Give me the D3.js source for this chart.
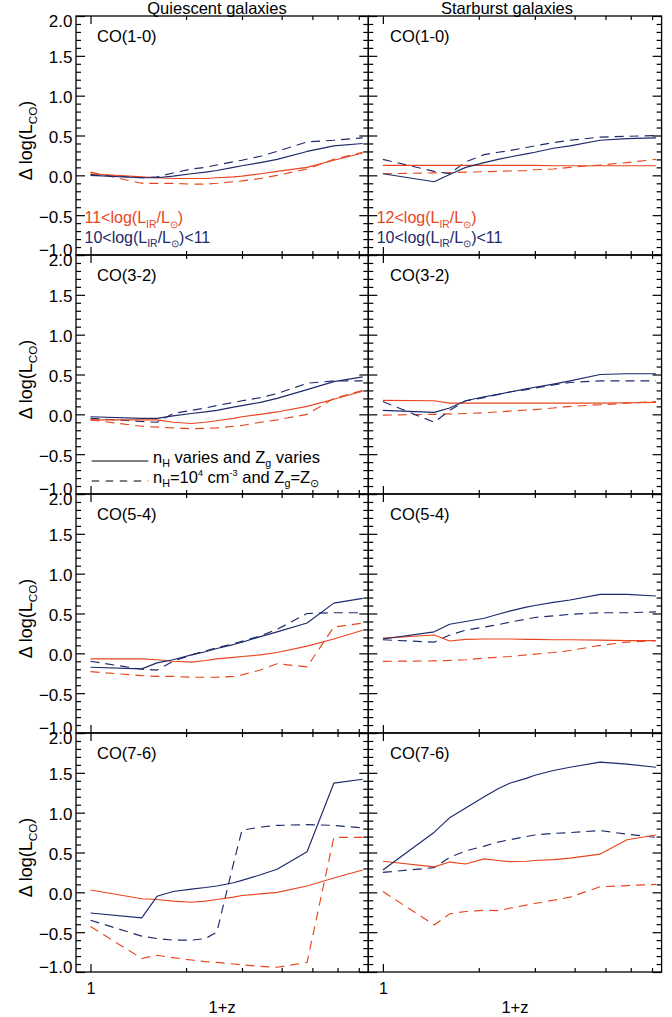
<!DOCTYPE html>
<html><head><meta charset="utf-8">
<script src="https://cdn.jsdelivr.net/npm/d3@7"></script>
<style>body{margin:0;background:#fff} svg{display:block}</style>
</head><body>
<svg id="c" width="672" height="1017"></svg>
<script>
// ---------- DATA ----------
const onePlusZ = [1, 1.45, 1.62, 1.82, 2.08, 2.3, 2.5, 2.82, 3.0, 3.43, 3.87, 4.81, 5.84, 7.2];
const columnTitles = ["Quiescent galaxies", "Starburst galaxies"];
const lineLabels = ["CO(1-0)", "CO(3-2)", "CO(5-4)", "CO(7-6)"];
const yMajorTicks = [-1, -0.5, 0, 0.5, 1, 1.5, 2];
const yMinorTicks = [-0.9,-0.8,-0.7,-0.6,-0.4,-0.3,-0.2,-0.1,0.1,0.2,0.3,0.4,0.6,0.7,0.8,0.9,1.1,1.2,1.3,1.4,1.6,1.7,1.8,1.9];
const xMajorTicks = [1];
const xMinorTicks = [2, 3, 4, 5, 6, 7];

// Quiescent galaxies
const qCO10 = {
  navySolid: [0.0,-0.03,-0.03,-0.01,0.02,0.04,0.06,0.1,0.12,0.16,0.2,0.3,0.37,0.4],
  navyDash:  [0.01,-0.03,-0.02,0.03,0.08,0.1,0.13,0.17,0.19,0.24,0.3,0.42,0.44,0.47],
  redSolid:  [0.02,-0.02,-0.03,-0.04,-0.04,-0.04,-0.03,-0.02,-0.01,0.02,0.05,0.1,0.19,0.28],
  redDash:   [0.04,-0.1,-0.1,-0.1,-0.11,-0.11,-0.1,-0.08,-0.07,-0.04,0.0,0.08,0.2,0.29]
};
const qCO32 = {
  navySolid: [-0.03,-0.05,-0.05,-0.02,0.01,0.03,0.05,0.09,0.11,0.15,0.2,0.31,0.41,0.47],
  navyDash:  [-0.05,-0.09,-0.1,0.01,0.05,0.08,0.11,0.15,0.17,0.21,0.26,0.39,0.42,0.42],
  redSolid:  [-0.07,-0.07,-0.07,-0.1,-0.115,-0.1,-0.08,-0.05,-0.03,0.0,0.03,0.1,0.19,0.29],
  redDash:   [-0.07,-0.15,-0.16,-0.17,-0.18,-0.175,-0.17,-0.15,-0.14,-0.1,-0.07,0.0,0.2,0.3]
};
const qCO54 = {
  navySolid: [-0.175,-0.195,-0.12,-0.08,-0.02,0.02,0.06,0.11,0.14,0.21,0.27,0.38,0.63,0.69],
  navyDash:  [-0.1,-0.2,-0.21,-0.1,-0.02,0.03,0.07,0.12,0.15,0.22,0.3,0.5,0.51,0.51],
  redSolid:  [-0.07,-0.07,-0.08,-0.1,-0.11,-0.09,-0.07,-0.05,-0.04,-0.02,0.01,0.09,0.18,0.29],
  redDash:   [-0.23,-0.28,-0.29,-0.29,-0.3,-0.3,-0.3,-0.29,-0.27,-0.21,-0.13,-0.17,0.33,0.38]
};
const qCO76 = {
  navySolid: [-0.26,-0.32,-0.05,0.01,0.04,0.06,0.08,0.12,0.15,0.22,0.29,0.51,1.37,1.42],
  navyDash:  [-0.35,-0.55,-0.58,-0.6,-0.6,-0.58,-0.5,0.36,0.78,0.82,0.84,0.85,0.84,0.81],
  redSolid:  [0.03,-0.08,-0.09,-0.11,-0.125,-0.11,-0.09,-0.06,-0.04,-0.02,0.0,0.08,0.18,0.28],
  redDash:   [-0.43,-0.83,-0.79,-0.82,-0.85,-0.87,-0.88,-0.9,-0.91,-0.93,-0.94,-0.88,0.69,0.69]
};
// Starburst galaxies
const sCO10 = {
  navySolid: [0.02,-0.08,0.01,0.1,0.16,0.2,0.23,0.27,0.29,0.34,0.37,0.44,0.46,0.47],
  navyDash:  [0.2,0.05,0.02,0.17,0.26,0.29,0.31,0.35,0.37,0.41,0.44,0.48,0.49,0.5],
  redSolid:  [0.125,0.125,0.125,0.125,0.125,0.125,0.125,0.125,0.125,0.12,0.12,0.12,0.12,0.12],
  redDash:   [0.02,0.03,0.035,0.04,0.045,0.05,0.055,0.06,0.07,0.08,0.1,0.13,0.16,0.2]
};
const sCO32 = {
  navySolid: [0.05,0.025,0.08,0.17,0.22,0.25,0.28,0.32,0.34,0.38,0.42,0.5,0.51,0.51],
  navyDash:  [0.16,-0.1,0.05,0.17,0.21,0.25,0.28,0.31,0.33,0.37,0.4,0.42,0.42,0.42],
  redSolid:  [0.175,0.17,0.14,0.14,0.14,0.14,0.14,0.14,0.14,0.14,0.14,0.14,0.145,0.15],
  redDash:   [-0.01,0.0,0.005,0.01,0.02,0.03,0.04,0.055,0.06,0.08,0.1,0.12,0.14,0.16]
};
const sCO54 = {
  navySolid: [0.18,0.27,0.365,0.4,0.44,0.49,0.53,0.58,0.6,0.64,0.67,0.74,0.74,0.72],
  navyDash:  [0.17,0.14,0.23,0.29,0.33,0.36,0.39,0.43,0.45,0.47,0.49,0.51,0.51,0.52],
  redSolid:  [0.19,0.23,0.155,0.175,0.18,0.18,0.18,0.175,0.175,0.17,0.17,0.165,0.16,0.16],
  redDash:   [-0.1,-0.095,-0.09,-0.08,-0.06,-0.05,-0.04,-0.02,-0.01,0.01,0.035,0.1,0.14,0.16]
};
const sCO76 = {
  navySolid: [0.28,0.755,0.935,1.06,1.2,1.3,1.37,1.43,1.47,1.53,1.57,1.635,1.61,1.57],
  navyDash:  [0.25,0.31,0.44,0.52,0.58,0.63,0.66,0.7,0.72,0.74,0.75,0.775,0.73,0.69],
  redSolid:  [0.39,0.32,0.38,0.355,0.42,0.4,0.385,0.39,0.4,0.41,0.43,0.48,0.66,0.72],
  redDash:   [0.01,-0.41,-0.27,-0.24,-0.225,-0.23,-0.2,-0.16,-0.14,-0.1,-0.06,0.07,0.085,0.1]
};
const panelData = [[qCO10, sCO10], [qCO32, sCO32], [qCO54, sCO54], [qCO76, sCO76]];

// ---------- STYLE / LAYOUT ----------
const RED = "#e8461e", NAVY = "#1d2a6b";
const FONT = "'Liberation Sans', Arial, Helvetica, sans-serif";
const colX = [[76, 368.3], [368.3, 661.6]];
const rowTop0 = 16, rowH = 239;
const seriesStyle = {
  navySolid: {color: NAVY, dash: null},
  navyDash:  {color: NAVY, dash: "9,6"},
  redSolid:  {color: RED, dash: null},
  redDash:   {color: RED, dash: "9,6"}
};

const svg = d3.select("#c").style("font-family", FONT);

function rich(textSel, parts, fs) {
  let cur = 0;
  parts.forEach(([t, type]) => {
    const target = type === "sub" ? 0.3 * fs : type === "sup" ? -0.42 * fs : 0;
    const ts = textSel.append("tspan").text(t).attr("dy", target - cur);
    if (type) ts.attr("font-size", fs * (type === "sup" ? 0.55 : 0.65));
    cur = target;
  });
}

const fmt = d3.format(".1f");

panelData.forEach((rowData, r) => {
  const top = rowTop0 + r * rowH, bot = top + rowH;
  rowData.forEach((pd, c) => {
    const [x0, x1] = colX[c];
    const x = d3.scaleLog().domain([0.9, 7.5]).range([x0, x1]);
    const y = d3.scaleLinear().domain([-1, 2]).range([bot, top]);
    const g = svg.append("g");

    const line = d3.line().x((d, i) => x(onePlusZ[i])).y(d => y(d));
    ["redDash", "navyDash", "redSolid", "navySolid"].forEach(k => {
      g.append("path").datum(pd[k]).attr("d", line)
        .attr("fill", "none").attr("stroke", seriesStyle[k].color)
        .attr("stroke-width", 1.15).attr("stroke-linejoin", "round")
        .attr("stroke-dasharray", seriesStyle[k].dash);
    });

    const styleAxis = sel => { sel.select(".domain").remove(); sel.selectAll("line").attr("stroke", "#000").attr("stroke-width", 1.2); };
    const showY = c === 0;
    g.append("g").attr("transform", `translate(${x0},0)`)
      .call(d3.axisLeft(y).tickValues(yMajorTicks).tickSize(-9).tickPadding(3.5)
        .tickFormat(showY ? fmt : () => ""))
      .call(styleAxis)
      .call(s => s.selectAll("text").attr("font-size", 17).attr("font-family", FONT).attr("fill", "#000")
        .attr("dy", "0.33em")
        .attr("y", d => d === 2 ? 5 : d === -1 ? -5 : 1.5));
    g.append("g").attr("transform", `translate(${x0},0)`)
      .call(d3.axisLeft(y).tickValues(yMinorTicks).tickSize(-5).tickFormat(() => ""))
      .call(styleAxis);
    g.append("g").attr("transform", `translate(${x1},0)`)
      .call(d3.axisRight(y).tickValues(yMajorTicks).tickSize(-9).tickFormat(() => ""))
      .call(styleAxis);
    g.append("g").attr("transform", `translate(${x1},0)`)
      .call(d3.axisRight(y).tickValues(yMinorTicks).tickSize(-5).tickFormat(() => ""))
      .call(styleAxis);
    const showX = r === 3;
    g.append("g").attr("transform", `translate(0,${bot})`)
      .call(d3.axisBottom(x).tickValues(xMajorTicks).tickSize(-8).tickFormat(showX ? d3.format("d") : () => ""))
      .call(styleAxis)
      .call(s => s.selectAll("text").attr("font-size", 16).attr("font-family", FONT).attr("fill", "#000")
        .attr("y", 22).attr("dy", 0));
    g.append("g").attr("transform", `translate(0,${bot})`)
      .call(d3.axisBottom(x).tickValues(xMinorTicks).tickSize(-4).tickFormat(() => ""))
      .call(styleAxis);
    g.append("g").attr("transform", `translate(0,${top})`)
      .call(d3.axisTop(x).tickValues(xMajorTicks).tickSize(-8).tickFormat(() => ""))
      .call(styleAxis);
    g.append("g").attr("transform", `translate(0,${top})`)
      .call(d3.axisTop(x).tickValues(xMinorTicks).tickSize(-4).tickFormat(() => ""))
      .call(styleAxis);

    g.append("rect").attr("x", x0).attr("y", top).attr("width", x1 - x0).attr("height", rowH)
      .attr("fill", "none").attr("stroke", "#000").attr("stroke-width", 1.3);

    g.append("text").attr("x", x0 + (c === 0 ? 21 : 21.7)).attr("y", top + 25.7)
      .attr("font-size", 16.5).text(lineLabels[r]);

    if (showX) {
      g.append("text").attr("x", (x0 + x1) / 2).attr("y", 1013).attr("text-anchor", "middle")
        .attr("font-size", 16.5).text("1+z");
    }
  });

  const yt = svg.append("text").attr("transform", `translate(31.5,${top + rowH / 2 + 5}) rotate(-90)`)
    .attr("text-anchor", "middle").attr("font-size", 18);
  rich(yt, [["Δ log(L", ""], ["CO", "sub"], [")", ""]], 18);
});

svg.append("text").attr("x", 217).attr("y", 13.5).attr("text-anchor", "middle").attr("font-size", 16.5).text(columnTitles[0]);
svg.append("text").attr("x", 507).attr("y", 13.5).attr("text-anchor", "middle").attr("font-size", 16.5).text(columnTitles[1]);

const lumFs = 16;
[[84.5, "11"], [376.7, "12"]].forEach(([lx, lo]) => {
  const t1 = svg.append("text").attr("x", lx).attr("y", rowTop0 + 207).attr("font-size", lumFs).attr("fill", RED);
  rich(t1, [[lo + "<log(L", ""], ["IR", "sub"], ["/L", ""], ["⊙", "sub"], [")", ""]], lumFs);
  const t2 = svg.append("text").attr("x", lx).attr("y", rowTop0 + 226.5).attr("font-size", lumFs).attr("fill", NAVY);
  rich(t2, [["10<log(L", ""], ["IR", "sub"], ["/L", ""], ["⊙", "sub"], [")<11", ""]], lumFs);
});

const lt = rowTop0 + rowH;
svg.append("line").attr("x1", 91.7).attr("x2", 148.3).attr("y1", lt + 206).attr("y2", lt + 206)
  .attr("stroke", "#000").attr("stroke-width", 1.2);
svg.append("line").attr("x1", 91.7).attr("x2", 148.3).attr("y1", lt + 226).attr("y2", lt + 226)
  .attr("stroke", "#000").attr("stroke-width", 1.2).attr("stroke-dasharray", "7.5,6.5");
const lgFs = 16.5;
const lg1 = svg.append("text").attr("x", 153).attr("y", lt + 207.5).attr("font-size", lgFs);
rich(lg1, [["n", ""], ["H", "sub"], [" varies and Z", ""], ["g", "sub"], [" varies", ""]], lgFs);
const lg2 = svg.append("text").attr("x", 153).attr("y", lt + 227.5).attr("font-size", lgFs);
rich(lg2, [["n", ""], ["H", "sub"], ["=10", ""], ["4", "sup"], [" cm", ""], ["-3", "sup"], [" and Z", ""], ["g", "sub"], ["=Z", ""], ["⊙", "sub"]], lgFs);
</script>
</body></html>
